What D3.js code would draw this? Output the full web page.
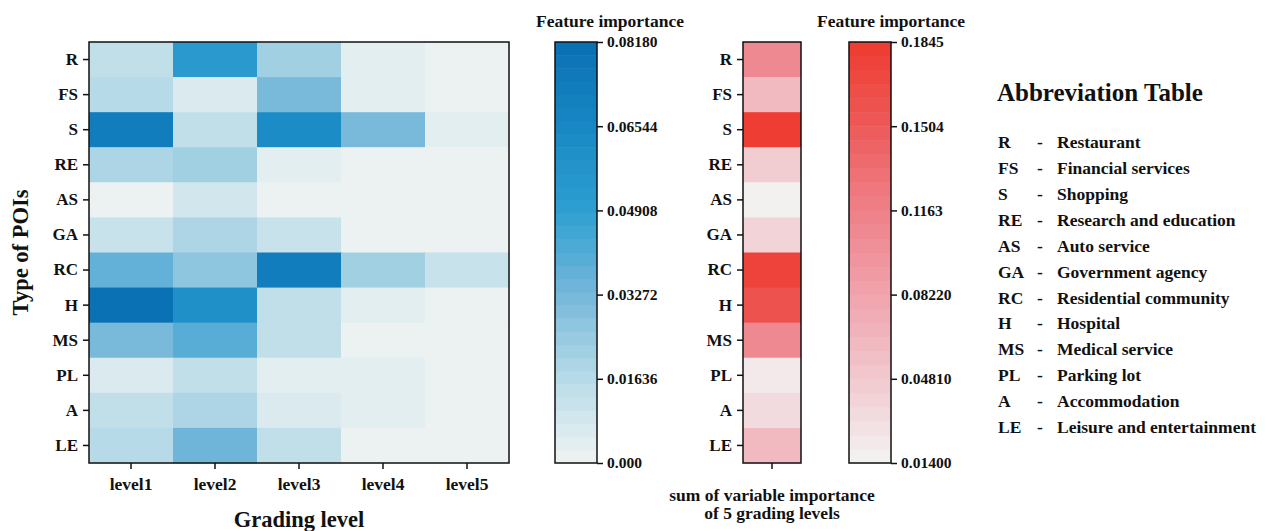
<!DOCTYPE html>
<html>
<head>
<meta charset="utf-8">
<script src="https://cdn.jsdelivr.net/npm/d3@7"></script>
<style>
  body { margin: 0; background: #fff; }
  text { font-family: "Liberation Serif", "Times New Roman", serif; font-weight: bold; fill: #111; }
  .axis path, .axis line { stroke: #111; stroke-width: 1.5; }
</style>
</head>
<body>
<div class="chart"></div>
<script>
// Data
var poiTypes = ["R", "FS", "S", "RE", "AS", "GA", "RC", "H", "MS", "PL", "A", "LE"];
var levels = ["level1", "level2", "level3", "level4", "level5"];

var level1 = [0.014, 0.016, 0.074, 0.019, 0.001, 0.011, 0.036, 0.080, 0.033, 0.007, 0.013, 0.016];
var level2 = [0.053, 0.007, 0.014, 0.022, 0.010, 0.019, 0.028, 0.060, 0.039, 0.015, 0.019, 0.035];
var level3 = [0.022, 0.032, 0.062, 0.005, 0.002, 0.011, 0.072, 0.014, 0.014, 0.004, 0.006, 0.014];
var level4 = [0.005, 0.005, 0.033, 0.001, 0.001, 0.001, 0.021, 0.005, 0.001, 0.005, 0.005, 0.001];
var level5 = [0.001, 0.001, 0.005, 0.001, 0.001, 0.001, 0.011, 0.001, 0.001, 0.001, 0.001, 0.001];

var sumImportance = [0.105, 0.060, 0.1845, 0.045, 0.015, 0.040, 0.178, 0.160, 0.105, 0.025, 0.035, 0.060];

var blueTicks = [0.000, 0.01636, 0.03272, 0.04908, 0.06544, 0.08180];
var blueTickLabels = ["0.000", "0.01636", "0.03272", "0.04908", "0.06544", "0.08180"];
var redTicks = [0.014, 0.0481, 0.0822, 0.1163, 0.1504, 0.1845];
var redTickLabels = ["0.01400", "0.04810", "0.08220", "0.1163", "0.1504", "0.1845"];

var abbrevNames = ["Restaurant", "Financial services", "Shopping", "Research and education",
  "Auto service", "Government agency", "Residential community", "Hospital",
  "Medical service", "Parking lot", "Accommodation", "Leisure and entertainment"];

var svgWidth = 1280;
var svgHeight = 531;

var svg = d3.select(".chart")
  .append("svg")
  .attr("width", svgWidth)
  .attr("height", svgHeight);

// Plot frame
var plotTop = 42, plotBottom = 463;
var heatLeft = 89, heatRight = 509;

// Colour maps (stepped, like a listed colormap)
var blueRamp = d3.scaleLinear()
  .domain([0, 0.2, 0.4, 0.6, 0.8, 1])
  .range(["#eff4f2", "#b8dbe8", "#76b8da", "#2e9fd1", "#1888c4", "#0a6fb4"])
  .interpolate(d3.interpolateRgb);
var redRamp = d3.scaleLinear()
  .domain([0, 0.2, 0.4, 0.6, 0.8, 1])
  .range(["#f3f3f3", "#f1c9cf", "#f0a4ad", "#ef8088", "#ee5a5a", "#ee3b2f"])
  .interpolate(d3.interpolateRgb);

var blueSteps = 32, redSteps = 30;
var blueMin = 0, blueMax = 0.0818;
var redMin = 0.014, redMax = 0.1845;

function stepped(v, lo, hi, n) {
  var t = (v - lo) / (hi - lo);
  t = Math.max(0, Math.min(0.9999, t));
  return (Math.floor(t * n) + 0.5) / n;
}
var blueColor = v => blueRamp(stepped(v, blueMin, blueMax, blueSteps));
var redColor = v => redRamp(stepped(v, redMin, redMax, redSteps));

// ---------- Heatmap ----------
var seriesByLevel = [level1, level2, level3, level4, level5];
var cells = [];
poiTypes.forEach(function(p, i) {
  levels.forEach(function(l, j) {
    cells.push({ poi: p, level: l, value: seriesByLevel[j][i] });
  });
});

var xBand = d3.scaleBand().domain(levels).range([heatLeft, heatRight]);
var yBand = d3.scaleBand().domain(poiTypes).range([plotTop, plotBottom]);

svg.append("g").selectAll("rect")
  .data(cells)
  .enter()
  .append("rect")
  .attr("x", d => xBand(d.level))
  .attr("y", d => yBand(d.poi))
  .attr("width", xBand.bandwidth() + 0.5)
  .attr("height", yBand.bandwidth() + 0.5)
  .attr("fill", d => blueColor(d.value));

svg.append("rect")
  .attr("x", heatLeft).attr("y", plotTop)
  .attr("width", heatRight - heatLeft).attr("height", plotBottom - plotTop)
  .attr("fill", "none").attr("stroke", "#111").attr("stroke-width", 1.5);

var heatX = svg.append("g")
  .attr("class", "axis")
  .attr("transform", `translate(0, ${plotBottom})`)
  .call(d3.axisBottom(xBand).tickSize(6).tickPadding(9));
heatX.select(".domain").remove();
heatX.selectAll("text").style("font-size", "17.5px");

var heatY = svg.append("g")
  .attr("class", "axis")
  .attr("transform", `translate(${heatLeft}, 0)`)
  .call(d3.axisLeft(yBand).tickSize(6).tickPadding(5));
heatY.select(".domain").remove();
heatY.selectAll("text").style("font-size", "17px");

svg.append("text")
  .attr("x", (heatLeft + heatRight) / 2)
  .attr("y", 527)
  .attr("text-anchor", "middle")
  .style("font-size", "22.5px")
  .text("Grading level");

svg.append("text")
  .attr("transform", `translate(28, ${(plotTop + plotBottom) / 2}) rotate(-90)`)
  .attr("text-anchor", "middle")
  .style("font-size", "22.5px")
  .text("Type of POIs");

// ---------- Colour bar helper ----------
function colorBar(x0, x1, lo, hi, n, ramp, ticks, labels, title, titleX) {
  var yScale = d3.scaleLinear().domain([lo, hi]).range([plotBottom, plotTop]);
  var bands = d3.range(n);
  svg.append("g").selectAll("rect")
    .data(bands)
    .enter()
    .append("rect")
    .attr("x", x0)
    .attr("y", i => yScale(lo + (i + 1) * (hi - lo) / n))
    .attr("width", x1 - x0)
    .attr("height", i => yScale(lo + i * (hi - lo) / n) - yScale(lo + (i + 1) * (hi - lo) / n) + 0.5)
    .attr("fill", i => ramp((i + 0.5) / n));
  svg.append("rect")
    .attr("x", x0).attr("y", plotTop)
    .attr("width", x1 - x0).attr("height", plotBottom - plotTop)
    .attr("fill", "none").attr("stroke", "#111").attr("stroke-width", 1.5);
  var ax = svg.append("g")
    .attr("class", "axis")
    .attr("transform", `translate(${x1}, 0)`)
    .call(d3.axisRight(yScale).tickValues(ticks).tickFormat((d, i) => labels[i]).tickSize(6).tickPadding(4));
  ax.select(".domain").remove();
  ax.selectAll("text").style("font-size", "15.5px");
  svg.append("text")
    .attr("x", titleX)
    .attr("y", 27)
    .attr("text-anchor", "middle")
    .style("font-size", "17.5px")
    .text(title);
}

colorBar(555, 597, blueMin, blueMax, blueSteps, blueRamp, blueTicks, blueTickLabels, "Feature importance", 610);

// ---------- Sum column ----------
var colLeft = 743, colRight = 801;
var sumX = d3.scaleBand().domain(["sum"]).range([colLeft, colRight]);

svg.append("g").selectAll("rect")
  .data(sumImportance)
  .enter()
  .append("rect")
  .attr("x", colLeft)
  .attr("y", (d, i) => yBand(poiTypes[i]))
  .attr("width", colRight - colLeft)
  .attr("height", yBand.bandwidth() + 0.5)
  .attr("fill", d => redColor(d));

svg.append("rect")
  .attr("x", colLeft).attr("y", plotTop)
  .attr("width", colRight - colLeft).attr("height", plotBottom - plotTop)
  .attr("fill", "none").attr("stroke", "#111").attr("stroke-width", 1.5);

var sumY = svg.append("g")
  .attr("class", "axis")
  .attr("transform", `translate(${colLeft}, 0)`)
  .call(d3.axisLeft(yBand).tickSize(6).tickPadding(5));
sumY.select(".domain").remove();
sumY.selectAll("text").style("font-size", "17px");

var sumXAxis = svg.append("g")
  .attr("class", "axis")
  .attr("transform", `translate(0, ${plotBottom})`)
  .call(d3.axisBottom(sumX).tickSize(6).tickFormat(""));
sumXAxis.select(".domain").remove();

svg.append("text")
  .attr("x", (colLeft + colRight) / 2).attr("y", 501)
  .attr("text-anchor", "middle").style("font-size", "17.5px")
  .text("sum of variable importance");
svg.append("text")
  .attr("x", (colLeft + colRight) / 2).attr("y", 519)
  .attr("text-anchor", "middle").style("font-size", "17.5px")
  .text("of 5 grading levels");

colorBar(849, 891, redMin, redMax, redSteps, redRamp, redTicks, redTickLabels, "Feature importance", 891);

// ---------- Abbreviation table ----------
svg.append("text")
  .attr("x", 997).attr("y", 101)
  .style("font-size", "25px")
  .text("Abbreviation Table");

var rowY = d3.scalePoint().domain(poiTypes).range([142, 427]);
var rows = svg.append("g").selectAll("g")
  .data(poiTypes)
  .enter()
  .append("g")
  .attr("transform", d => `translate(0, ${rowY(d)})`);
rows.append("text").attr("x", 998).attr("dy", "0.35em").style("font-size", "17.5px").text(d => d);
rows.append("text").attr("x", 1037).attr("dy", "0.35em").style("font-size", "17.5px").text("-");
rows.append("text").attr("x", 1057).attr("dy", "0.35em").style("font-size", "17.5px").text((d, i) => abbrevNames[i]);
</script>
</body>
</html>
